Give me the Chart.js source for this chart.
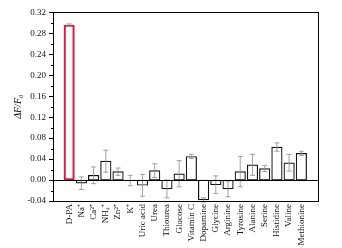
<!DOCTYPE html>
<html lang="en">
<head>
<meta charset="UTF-8" />
<title>Selectivity</title>
<script src="https://cdn.jsdelivr.net/npm/chart.js"></script>
<style>
  html, body { margin: 0; padding: 0; background: #fff; }
  .chart-container { width: 342px; height: 248px; position: relative; }
</style>
</head>
<body>
<div class="chart-container"><canvas id="selChart"></canvas></div>
<script>
const analytes = ['D-PA', 'Na⁺', 'Ca²⁺', 'NH₄⁺', 'Zn²⁺', 'K⁺', 'Uric acid', 'Urea', 'Thiourea', 'Glucose',
  'Vitamin C', 'Dopamine', 'Glycine', 'Arginine', 'Tyrosine', 'Alanine', 'Serine', 'Histidine', 'Valine', 'Methionine'];
const response = [0.296, -0.006, 0.009, 0.036, 0.016, -0.001, -0.010, 0.018, -0.017, 0.012,
  0.045, -0.038, -0.009, -0.017, 0.016, 0.029, 0.022, 0.063, 0.033, 0.051];
const errors = [0.002, 0.012, 0.016, 0.021, 0.007, 0.010, 0.021, 0.013, 0.017, 0.025,
  0.004, 0.004, 0.017, 0.015, 0.029, 0.020, 0.006, 0.008, 0.016, 0.004];
const yTicks = [-0.04, 0.00, 0.04, 0.08, 0.12, 0.16, 0.20, 0.24, 0.28, 0.32];
const yMinor = [-0.02, 0.02, 0.06, 0.10, 0.14, 0.18, 0.22, 0.26, 0.30];

const serif = "'Liberation Serif', 'Times New Roman', serif";

// frame, zero line, axis ticks and error bars
const decor = {
  id: 'decor',
  afterDatasetsDraw(chart) {
    const { ctx, chartArea: a, scales: { x, y } } = chart;
    ctx.save();
    ctx.strokeStyle = '#8a8a8a';
    ctx.lineWidth = 0.8;
    response.forEach((v, i) => {
      const px = x.getPixelForValue(i);
      const t = y.getPixelForValue(v + errors[i]);
      const b = y.getPixelForValue(v - errors[i]);
      ctx.beginPath();
      ctx.moveTo(px, t); ctx.lineTo(px, b);
      ctx.moveTo(px - 2.5, t); ctx.lineTo(px + 2.5, t);
      ctx.moveTo(px - 2.5, b); ctx.lineTo(px + 2.5, b);
      ctx.stroke();
    });
    ctx.strokeStyle = '#000';
    ctx.lineWidth = 1.2;
    const z = Math.round(y.getPixelForValue(0)) + 0.5;
    ctx.beginPath();
    ctx.moveTo(a.left, z); ctx.lineTo(a.right, z);
    ctx.stroke();
    ctx.lineWidth = 1;
    ctx.strokeRect(Math.round(a.left) + 0.5, Math.round(a.top) + 0.5,
      Math.round(a.right - a.left), Math.round(a.bottom - a.top));
    ctx.beginPath();
    yTicks.forEach(v => {
      const py = Math.round(y.getPixelForValue(v)) + 0.5;
      ctx.moveTo(a.left - 4, py); ctx.lineTo(a.left, py);
    });
    yMinor.forEach(v => {
      const py = Math.round(y.getPixelForValue(v)) + 0.5;
      ctx.moveTo(a.left - 2, py); ctx.lineTo(a.left, py);
    });
    ctx.stroke();
    ctx.restore();
  }
};

const ctx = document.getElementById('selChart').getContext('2d');
new Chart(ctx, {
  type: 'bar',
  data: {
    datasets: [{
      data: response.map((v, i) => ({ x: i, y: v })),
      backgroundColor: '#ffffff',
      borderColor: response.map((_, i) => i === 0 ? '#d3203f' : '#111111'),
      borderWidth: response.map((_, i) => i === 0 ? 2.2 : 1.2),
      borderSkipped: false,
      barThickness: 10.5
    }]
  },
  options: {
    responsive: true,
    maintainAspectRatio: false,
    animation: false,
    layout: { padding: { top: 6, right: 24, left: 12, bottom: 0 } },
    plugins: { legend: { display: false }, tooltip: { enabled: false } },
    scales: {
      x: {
        type: 'linear',
        min: -0.78,
        max: 19.82,
        afterBuildTicks: s => { s.ticks = analytes.map((_, i) => ({ value: i })); },
        afterFit: s => { s.height = 47; },
        grid: { display: false, drawTicks: false },
        border: { display: false },
        ticks: {
          autoSkip: false,
          minRotation: 90,
          maxRotation: 90,
          padding: 3,
          color: '#111',
          font: { family: serif, size: 9 },
          callback: v => analytes[v]
        }
      },
      y: {
        min: -0.04,
        max: 0.32,
        afterBuildTicks: s => { s.ticks = yTicks.map(v => ({ value: v })); },
        afterFit: s => { s.width = 41; },
        grid: { display: false, drawTicks: false },
        border: { display: false },
        ticks: {
          padding: 7,
          color: '#111',
          font: { family: serif, size: 9 },
          callback: v => v.toFixed(2)
        },
        title: {
          display: true,
          text: 'ΔF/F₀',
          color: '#111',
          padding: 0,
          font: { family: serif, size: 10, style: 'italic' }
        }
      }
    }
  },
  plugins: [decor]
});
</script>
</body>
</html>
